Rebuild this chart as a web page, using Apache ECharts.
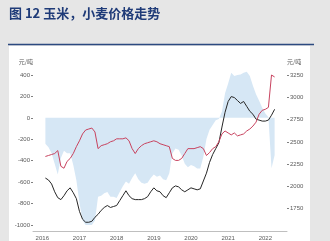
<!DOCTYPE html>
<html><head><meta charset="utf-8">
<script src="https://cdn.jsdelivr.net/npm/echarts/dist/echarts.min.js"></script>
<style>html,body{margin:0;padding:0;background:#e6e6e6}#c{width:330px;height:241px}</style>
</head><body><div id="c"></div><script>
// monthly categories 2015-10 .. 2022-08
const months = [];
for (let i = 0; i < 83; i++) {
  const y = 2015 + Math.floor((9 + i) / 12), m = (9 + i) % 12 + 1;
  months.push(y + '-' + (m < 10 ? '0' + m : m));
}
const lead = 4;   // data begins at 2016-02
// corn price (元/吨, right axis), 2016-02 .. 2022-04
const corn = [2094,2072,2028,1940,1874,1852,1896,1951,1984,1929,1863,1720,1632,1598,1598,1609,1654,1687,1731,1764,1786,1764,1775,1786,1841,1896,1951,1896,1863,1852,1852,1852,1863,1885,1940,1984,1951,1940,1896,1874,1929,1984,2006,1995,1962,1940,1962,1984,1973,1962,1973,2061,2149,2270,2358,2424,2490,2666,2832,2953,3008,2997,2964,2931,2953,2898,2843,2810,2755,2744,2733,2733,2744,2799,2865];
// wheat price (元/吨, right axis)
const wheat = [2336,2347,2358,2369,2402,2226,2204,2281,2314,2369,2446,2512,2589,2633,2644,2655,2611,2424,2457,2468,2479,2501,2512,2534,2534,2534,2545,2512,2424,2369,2424,2457,2479,2490,2501,2512,2501,2479,2468,2457,2446,2314,2292,2292,2314,2369,2424,2424,2424,2435,2446,2424,2347,2380,2424,2446,2501,2589,2622,2600,2578,2600,2567,2578,2589,2622,2644,2677,2721,2810,2854,2865,2887,3250,3228];
// corn-wheat spread (元/吨, left axis)
const spread = [-242,-275,-330,-429,-528,-374,-308,-330,-330,-440,-583,-792,-957,-1000,-1000,-1000,-957,-737,-726,-704,-693,-737,-737,-748,-693,-638,-594,-616,-561,-517,-572,-605,-616,-605,-561,-528,-550,-539,-572,-583,-517,-330,-286,-297,-352,-429,-462,-440,-451,-473,-473,-363,-198,-110,-66,-22,-11,60,230,320,420,390,400,405,420,430,390,300,220,160,95,40,5,-470,-350];
const leftTicks = {min: -1000, max: 400, interval: 200};
const rightTicks = {min: 1500, max: 3250, interval: 250};
const unit = '元/吨';
const title = '图 12 玉米，小麦价格走势';

function pad(arr) {
  const out = new Array(months.length).fill(null);
  arr.forEach((v, i) => { out[lead + i] = v; });
  return out;
}
const lblFont = 'Liberation Sans';
const axisLbl = {fontSize: 6, color: '#595959', fontFamily: lblFont, formatter: v => String(v)};
const chart = echarts.init(document.getElementById('c'));
chart.setOption({
  backgroundColor: '#e6e6e6',
  animation: false,
  title: {text: title, left: 9, top: 7, padding: 0, textStyle: {fontSize: 13, fontWeight: 'bold', color: '#1f3b78', fontFamily: 'Noto Sans CJK SC'}},
  graphic: [
    {type: 'rect', z: -10, shape: {x: 9, y: 46, width: 301, height: 200}, style: {fill: '#ffffff'}},
    {type: 'line', z: -10, shape: {x1: 8, y1: 44.5, x2: 314, y2: 44.5}, style: {stroke: '#2c4a80', lineWidth: 1.5}}
  ],
  grid: [
    {left: 33, right: 43, top: 75, bottom: 16},
    {left: 33, right: 43, top: 75, bottom: 7}
  ],
  xAxis: [
    {type: 'category', gridIndex: 0, data: months, boundaryGap: false, show: false},
    {type: 'category', gridIndex: 1, data: months, boundaryGap: false,
     axisLine: {lineStyle: {color: '#bfbfbf', width: 1}},
     axisTick: {show: false},
     axisLabel: Object.assign({}, axisLbl, {margin: 4, interval: (i, v) => v.endsWith('-01'), formatter: v => v.slice(0, 4)}),
     splitLine: {show: false}}
  ],
  yAxis: [
    {type: 'value', gridIndex: 0, position: 'left', min: leftTicks.min, max: leftTicks.max, interval: leftTicks.interval,
     name: unit, nameLocation: 'end', nameGap: 10, nameTextStyle: {fontSize: 6, color: '#595959', align: 'right', fontFamily: 'Noto Sans CJK SC'},
     axisLine: {show: false}, axisTick: {show: true, length: 2, lineStyle: {color: '#808080'}},
     axisLabel: Object.assign({margin: 3}, axisLbl), splitLine: {show: false}},
    {type: 'value', gridIndex: 1, position: 'right', min: rightTicks.min, max: rightTicks.max, interval: rightTicks.interval,
     name: unit, nameLocation: 'end', nameGap: 10, nameTextStyle: {fontSize: 6, color: '#595959', align: 'left', fontFamily: 'Noto Sans CJK SC'},
     axisLine: {show: false}, axisTick: {show: true, length: 2, lineStyle: {color: '#808080'}},
     axisLabel: Object.assign({margin: 3, showMinLabel: false}, axisLbl), splitLine: {show: false}}
  ],
  series: [
    {type: 'line', xAxisIndex: 0, yAxisIndex: 0, data: pad(spread), symbol: 'none', clip: false, z: 1,
     lineStyle: {width: 0}, areaStyle: {color: '#d6e7f5', opacity: 1}},
    {type: 'line', xAxisIndex: 1, yAxisIndex: 1, data: pad(corn), symbol: 'none', clip: false, z: 3,
     lineStyle: {width: 1, color: '#262626'}, itemStyle: {color: '#262626'}},
    {type: 'line', xAxisIndex: 1, yAxisIndex: 1, data: pad(wheat), symbol: 'none', clip: false, z: 4,
     lineStyle: {width: 1, color: '#c8435f'}, itemStyle: {color: '#c8435f'}}
  ]
});
</script></body></html>
